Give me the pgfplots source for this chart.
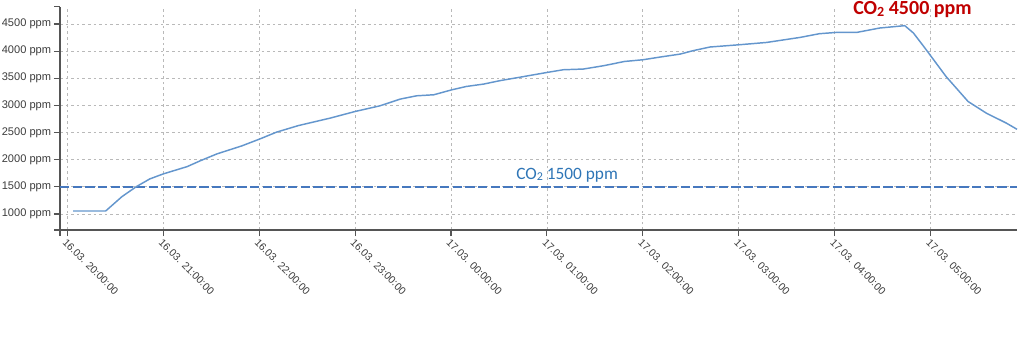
\documentclass[border=0pt]{standalone}
\usepackage{pgfplots}
\pgfplotsset{compat=1.18}
\usepackage{fontspec}
\setmainfont{Liberation Sans}
\newfontfamily\calibri{Carlito}
\definecolor{lineblue}{RGB}{100,150,205}
\definecolor{dashblue}{RGB}{70,120,190}
\definecolor{textblue}{RGB}{46,117,182}
\definecolor{textred}{RGB}{192,0,0}
\definecolor{axisgray}{RGB}{85,85,85}
\definecolor{labelgray}{RGB}{60,60,60}
\begin{document}
\begin{tikzpicture}
\useasboundingbox (-45pt,-98.25pt) rectangle (723pt,172.5pt);
\begin{axis}[
  scale only axis,
  width=717.75pt, height=167.5pt,
  xmin=-0.076, xmax=9.9,
  ymin=705, ymax=4819,
  axis x line*=bottom,
  axis y line*=left,
  axis line style={-, axisgray, line width=1.1pt},
  tick align=outside,
  major tick length=4.5pt,
  tick style={axisgray, line width=0.8pt},
  xtick={0,1,2,3,4,5,6,7,8,9},
  xticklabels={16.03. 20:00:00,16.03. 21:00:00,16.03. 22:00:00,16.03. 23:00:00,17.03. 00:00:00,17.03. 01:00:00,17.03. 02:00:00,17.03. 03:00:00,17.03. 04:00:00,17.03. 05:00:00},
  ytick={1000,1500,2000,2500,3000,3500,4000,4500},
  yticklabels={1000 ppm,1500 ppm,2000 ppm,2500 ppm,3000 ppm,3500 ppm,4000 ppm,4500 ppm},
  xticklabel style={rotate=-45, anchor=north west, inner sep=1pt, font=\fontsize{7.8}{9}\selectfont, text=labelgray},
  yticklabel style={font=\fontsize{8.3}{9.5}\selectfont, text=labelgray, inner sep=2pt},
  grid=major,
  major grid style={gray!55, line width=0.6pt, dash pattern=on 2pt off 2.2pt},
  clip=false,
]
\addplot[dashblue, line width=1.1pt, dash pattern=on 7pt off 2.5pt] coordinates {(-0.076,1500) (9.9,1500)};
\addplot[lineblue, line width=1.1pt] coordinates {
(0.06,1055) (0.40,1055) (0.57,1320) (0.72,1504) (0.86,1646) (1.00,1738)
(1.25,1873) (1.39,1983) (1.56,2107) (1.82,2255) (2.01,2384) (2.18,2507)
(2.41,2629) (2.74,2766) (3.00,2888) (3.26,2993) (3.47,3116) (3.64,3177)
(3.82,3196) (4.01,3288) (4.16,3349) (4.34,3393) (4.51,3456) (4.72,3520)
(5.00,3607) (5.17,3657) (5.38,3670) (5.59,3731) (5.81,3810) (6.00,3841)
(6.18,3891) (6.39,3946) (6.52,4007) (6.70,4076) (7.01,4118) (7.29,4160)
(7.64,4253) (7.84,4321) (8.02,4345) (8.23,4345) (8.47,4426) (8.73,4469)
(8.82,4334) (8.94,4057) (9.16,3533) (9.39,3072) (9.58,2858) (9.79,2673)
(9.90,2560)
};
\node[text=textblue, font=\calibri\fontsize{13}{15}\selectfont] at (axis cs:5.21,1720) {CO\raisebox{-0.15ex}{\fontsize{9}{10}\selectfont 2} 1500 ppm};
\node[text=textred, font=\calibri\bfseries\fontsize{15}{17}\selectfont] at (axis cs:8.81,4764) {CO\raisebox{-0.15ex}{\fontsize{10.5}{12}\selectfont 2} 4500 ppm};
\draw[axisgray, line width=0.8pt] (rel axis cs:0,1) -- ++(-4.5pt,0pt);
\draw[axisgray, line width=0.8pt] (rel axis cs:0,0) -- ++(-4.5pt,0pt);
\draw[axisgray, line width=0.8pt] (rel axis cs:0,0) -- ++(0pt,-4.5pt);
\end{axis}
\end{tikzpicture}
\end{document}
